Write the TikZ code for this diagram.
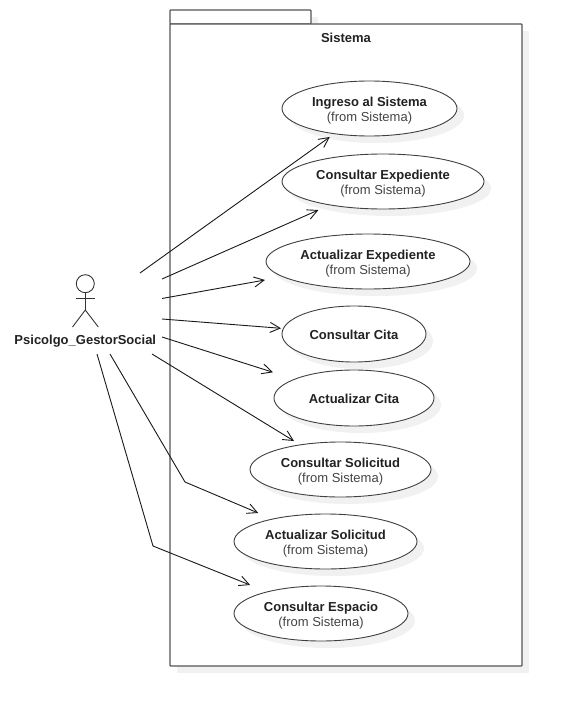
\documentclass[tikz,border=0pt]{standalone}
\usepackage{fontspec}
\setmainfont{Liberation Sans}
\usetikzlibrary{arrows.meta}
\definecolor{shade}{HTML}{F1F1F1}
\definecolor{framec}{HTML}{555555}
\definecolor{inkc}{HTML}{222222}
\definecolor{subc}{HTML}{444444}
\tikzset{
  pkgframe/.style={rectangle,draw=framec,line width=1.3pt,rounded corners=0.8pt,fill=white,inner sep=0pt,outer sep=0pt},
  pkgshadow/.style={fill=shade,draw=none},
  ucbox/.style={rectangle,inner sep=0pt,outer sep=0pt},
  uctext/.style={inner sep=0pt,outer sep=0pt,align=center,text=inkc,font=\fontsize{13}{15}\selectfont},
  ucline/.style={draw=black!75,line width=0.9pt,fill=white},
  ucshadow/.style={fill=shade,draw=none},
  assoc/.style={draw=black!90,line width=0.9pt,-{Straight Barb[length=10pt,width=10pt,line width=0.9pt]}},
  actorline/.style={draw=black!80,line width=0.9pt},
  boldlabel/.style={inner sep=0pt,outer sep=0pt,text=inkc,font=\fontsize{13}{15}\selectfont\bfseries},
}
% [text offset] name, left, right, top, bottom, text
\newcommand{\ucase}[7][1]{%
  \path[ucshadow] ({(#3+#4)/2+7},{(#5+#6)/2+7}) ellipse ({(#4-#3)/2} and {(#6-#5)/2});
  \path[ucline] ({(#3+#4)/2},{(#5+#6)/2}) ellipse ({(#4-#3)/2} and {(#6-#5)/2});
  \node[ucbox,minimum width={(#4-#3+2)*1pt},minimum height={(#6-#5+2)*1pt}] (#2) at ({(#3+#4)/2},{(#5+#6)/2}) {};
  \node[uctext] (#2t) at ({(#3+#4)/2},{(#5+#6)/2+#1}) {#7};
}
\newcommand{\fromsis}{\\{\color{subc}(from Sistema)}}
\begin{document}
\begin{tikzpicture}[x=1pt,y=-1pt]
\useasboundingbox (0,0) rectangle (562,706);
% package
\path[pkgshadow] (177,17) rectangle (318,31);
\path[pkgshadow] (177,31) rectangle (529,673);
\node[pkgframe,minimum width=141pt,minimum height=14pt] (tab) at (240.5,17) {};
\node[pkgframe,minimum width=352pt,minimum height=642pt] (pkg) at (346,345) {};
\node[boldlabel] (sistema) at (346,38) {Sistema};
% use cases
\ucase[2]{u1}{282}{457}{81}{136}{\textbf{Ingreso al Sistema}\fromsis}
\ucase[2]{u2}{282}{484}{154}{209}{\textbf{Consultar Expediente}\fromsis}
\ucase[2]{u3}{266}{470}{234}{289}{\textbf{Actualizar Expediente}\fromsis}
\ucase{u4}{282}{426}{306}{362}{\textbf{Consultar Cita}}
\ucase{u5}{274}{434}{370}{426}{\textbf{Actualizar Cita}}
\ucase[2]{u6}{250}{431}{442}{497}{\textbf{Consultar Solicitud}\fromsis}
\ucase[2]{u7}{234}{417}{514}{569}{\textbf{Actualizar Solicitud}\fromsis}
\ucase[2]{u8}{234}{408}{586}{641}{\textbf{Consultar Espacio}\fromsis}
% actor
\node[circle,actorline,minimum size=18pt,inner sep=0pt,outer sep=0pt] (head) at (85.3,283.7) {};
\coordinate (hip) at (85.3,310);
\coordinate (armL) at (76,298.5);
\coordinate (armR) at (95,298.5);
\coordinate (legL) at (72.5,327);
\coordinate (legR) at (98.3,327);
\draw[actorline] (head.south) -- (hip);
\draw[actorline] (armL) -- (armR);
\draw[actorline] (legL) -- (hip) -- (legR);
\node[boldlabel] (actor) at (85.3,341) {Psicolgo\_GestorSocial};
% connector free ends
\coordinate (a1) at (140,273);
\coordinate (a2) at (162,279);
\coordinate (a3) at (162,298.5);
\coordinate (a4) at (162,319);
\coordinate (a5) at (162,337);
\coordinate (a6) at (152,354);
\coordinate (a7) at (110,354);
\coordinate (a8) at (97,354);
\coordinate (b7) at (185,482);
\coordinate (b8) at (153,546);
\draw[assoc] (a1) -- (u1);
\draw[assoc] (a2) -- (u2);
\draw[assoc] (a3) -- (u3);
\draw[assoc] (a4) -- (u4);
\draw[assoc] (a5) -- (u5);
\draw[assoc] (a6) -- (u6);
\draw[assoc] (a7) -- (b7) -- (u7);
\draw[assoc] (a8) -- (b8) -- (u8);
\end{tikzpicture}
\end{document}
